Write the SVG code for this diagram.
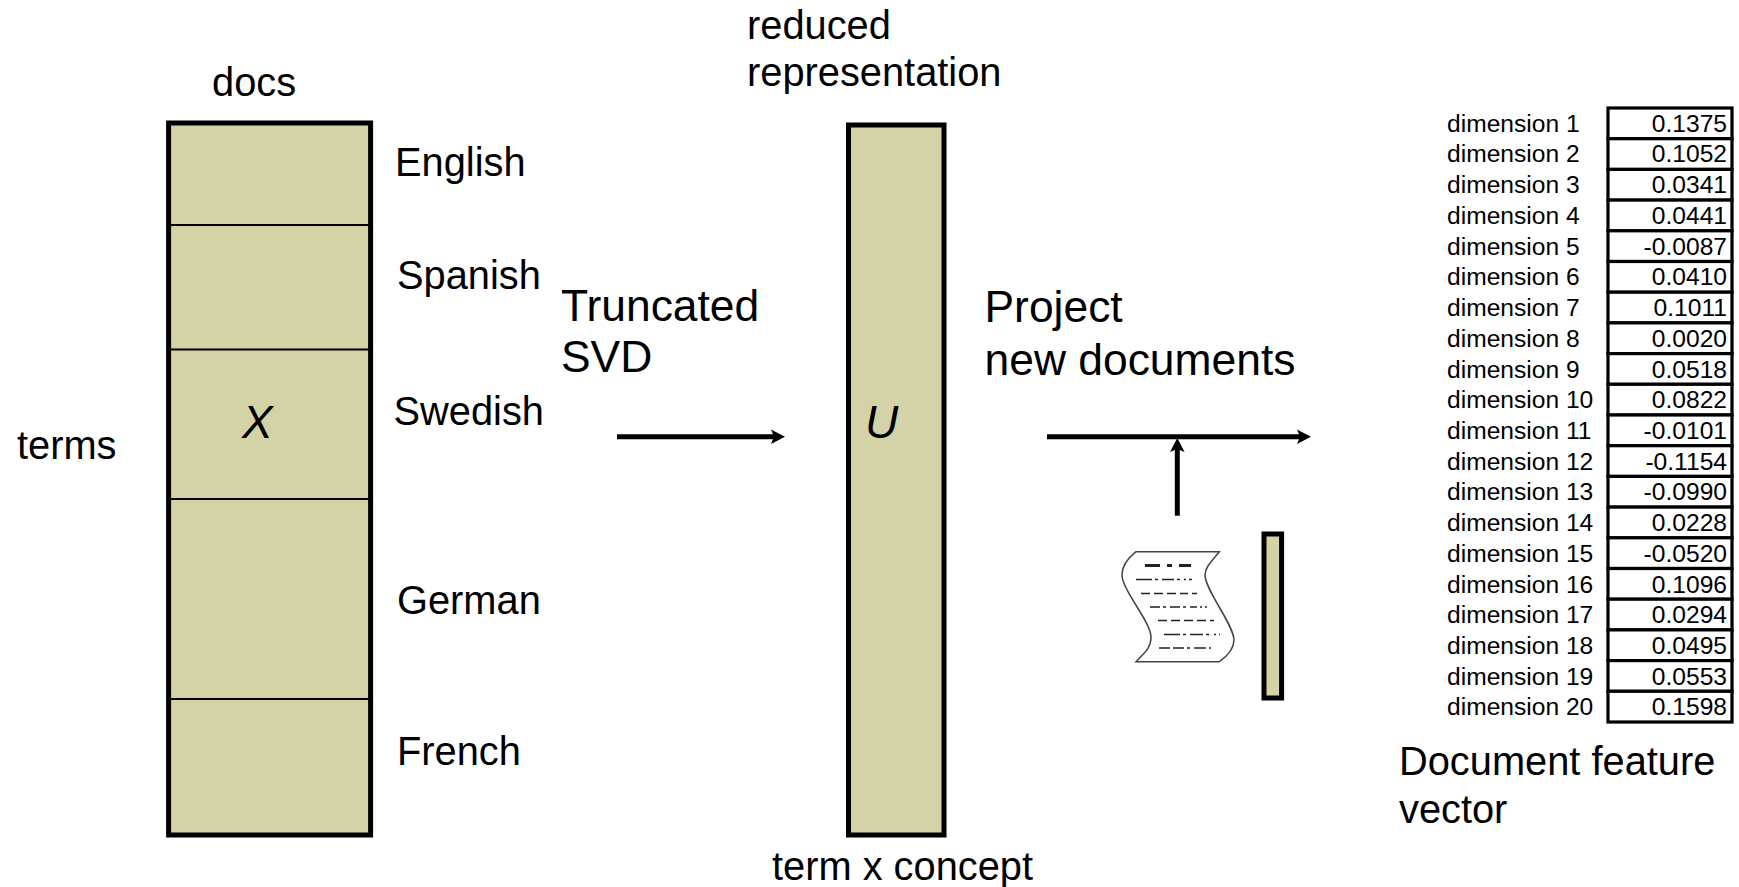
<svg xmlns="http://www.w3.org/2000/svg" width="1739" height="887" viewBox="0 0 1739 887">
<style>
text{font-family:"Liberation Sans",Arial,sans-serif;fill:#000}
.l{font-size:39.8px}
.h{font-size:44.4px}
.i{font-size:46px;font-style:italic}
.d{font-size:24.6px}
.v{font-size:24.6px;text-anchor:end}
.box{fill:#d4d3a7;stroke:#000;stroke-width:5}
.sep{stroke:#000;stroke-width:2.2;fill:none}
.cell{fill:#fff;stroke:#000;stroke-width:3.2}
.conn{stroke:#000;stroke-width:5;fill:none;marker-end:url(#ah)}
.dash{stroke:#222;stroke-width:1.5;fill:none}
</style>
<defs>
<marker id="ah" markerUnits="userSpaceOnUse" markerWidth="16" markerHeight="16" refX="3" refY="8" orient="auto">
<path d="M0,0.7 L14,8 L0,15.3 L3,8 Z" fill="#000"/>
</marker>
</defs>
<g id="matrix-x">
<rect class="box" x="168.6" y="123" width="202" height="712"/>
<path class="sep" d="M168.6 225H370.6M168.6 349.500H370.6M168.6 499H370.6M168.6 699H370.6"/>
<text class="i" x="242" y="438">X</text>
<text class="l" x="212" y="96">docs</text>
<text class="l" x="17" y="459">terms</text>
<text class="l" x="395" y="176">English</text>
<text class="l" x="397" y="289">Spanish</text>
<text class="l" x="393.500" y="425">Swedish</text>
<text class="l" x="397" y="614">German</text>
<text class="l" x="397" y="765">French</text>
</g>
<g id="label-svd">
<text class="h" x="561" y="320.500">Truncated</text>
<text class="h" x="561" y="372">SVD</text>
</g>
<g id="matrix-u">
<rect class="box" x="848.5" y="125" width="95.5" height="710"/>
<text class="i" x="865" y="438">U</text>
<text class="l" x="747" y="39">reduced</text>
<text class="l" x="747" y="86">representation</text>
<text class="l" x="772" y="880">term x concept</text>
</g>
<g id="label-project">
<text class="h" x="984.500" y="322">Project</text>
<text class="h" x="984.500" y="375">new documents</text>
</g>
<g id="connectors">
<path class="conn" d="M617 436.700H774"/>
<path class="conn" d="M1047 436.700H1300"/>
<path class="conn" d="M1177.300 515.700V449"/>
</g>
<g id="document">
<path d="M1136 551.700H1219.300C1210 563 1205 568 1205 575C1205 590 1234 625 1234 640C1234 650 1226 657 1219.300 661.700H1136C1145 652 1151 648 1151 637C1151 622 1122 590 1122 575C1122 565 1128 558 1136 551.700Z" fill="#fff" stroke="#444" stroke-width="1.500"/>
<path d="M1145 565.500H1160M1167 565.500H1172M1179 565.500H1191" stroke="#222" stroke-width="3" fill="none"/>
<path class="dash" d="M1136 579.500H1152M1155 579.500H1158M1162 579.500H1174M1177 579.500H1180M1184 579.500H1186M1189 579.500H1192"/>
<path class="dash" d="M1141 593.500H1150M1154 593.500H1163M1167 593.500H1176M1180 593.500H1188M1192 593.500H1197"/>
<path class="dash" d="M1150 607H1160M1163 607H1166M1170 607H1180M1183 607H1186M1190 607H1197M1200 607H1202M1205 607H1207"/>
<path class="dash" d="M1158 620.500H1167M1171 620.500H1180M1184 620.500H1193M1197 620.500H1206M1210 620.500H1214"/>
<path class="dash" d="M1164 634.500H1180M1183 634.500H1186M1190 634.500H1203M1206 634.500H1209M1214 634.500H1216M1219 634.500H1220"/>
<path class="dash" d="M1159 648H1170M1173 648H1184M1187 648H1190M1194 648H1206M1209 648H1211"/>
<rect class="box" x="1264" y="534" width="17.600" height="164"/>
</g>
<g id="feature-vector">
<g id="cells">
<rect class="cell" x="1608" y="108" width="124" height="30.700"/>
<rect class="cell" x="1608" y="138.700" width="124" height="30.700"/>
<rect class="cell" x="1608" y="169.400" width="124" height="30.700"/>
<rect class="cell" x="1608" y="200.100" width="124" height="30.700"/>
<rect class="cell" x="1608" y="230.800" width="124" height="30.700"/>
<rect class="cell" x="1608" y="261.500" width="124" height="30.700"/>
<rect class="cell" x="1608" y="292.200" width="124" height="30.700"/>
<rect class="cell" x="1608" y="322.900" width="124" height="30.700"/>
<rect class="cell" x="1608" y="353.600" width="124" height="30.700"/>
<rect class="cell" x="1608" y="384.300" width="124" height="30.700"/>
<rect class="cell" x="1608" y="415" width="124" height="30.700"/>
<rect class="cell" x="1608" y="445.700" width="124" height="30.700"/>
<rect class="cell" x="1608" y="476.400" width="124" height="30.700"/>
<rect class="cell" x="1608" y="507.100" width="124" height="30.700"/>
<rect class="cell" x="1608" y="537.800" width="124" height="30.700"/>
<rect class="cell" x="1608" y="568.500" width="124" height="30.700"/>
<rect class="cell" x="1608" y="599.200" width="124" height="30.700"/>
<rect class="cell" x="1608" y="629.900" width="124" height="30.700"/>
<rect class="cell" x="1608" y="660.600" width="124" height="30.700"/>
<rect class="cell" x="1608" y="691.300" width="124" height="30.700"/>
</g>
<text class="d" x="1447" y="132">dimension 1</text><text class="v" x="1727" y="132">0.1375</text>
<text class="d" x="1447" y="162">dimension 2</text><text class="v" x="1727" y="162">0.1052</text>
<text class="d" x="1447" y="193">dimension 3</text><text class="v" x="1727" y="193">0.0341</text>
<text class="d" x="1447" y="224">dimension 4</text><text class="v" x="1727" y="224">0.0441</text>
<text class="d" x="1447" y="255">dimension 5</text><text class="v" x="1727" y="255">-0.0087</text>
<text class="d" x="1447" y="285">dimension 6</text><text class="v" x="1727" y="285">0.0410</text>
<text class="d" x="1447" y="316">dimension 7</text><text class="v" x="1727" y="316">0.1011</text>
<text class="d" x="1447" y="347">dimension 8</text><text class="v" x="1727" y="347">0.0020</text>
<text class="d" x="1447" y="378">dimension 9</text><text class="v" x="1727" y="378">0.0518</text>
<text class="d" x="1447" y="408">dimension 10</text><text class="v" x="1727" y="408">0.0822</text>
<text class="d" x="1447" y="439">dimension 11</text><text class="v" x="1727" y="439">-0.0101</text>
<text class="d" x="1447" y="470">dimension 12</text><text class="v" x="1727" y="470">-0.1154</text>
<text class="d" x="1447" y="500">dimension 13</text><text class="v" x="1727" y="500">-0.0990</text>
<text class="d" x="1447" y="531">dimension 14</text><text class="v" x="1727" y="531">0.0228</text>
<text class="d" x="1447" y="562">dimension 15</text><text class="v" x="1727" y="562">-0.0520</text>
<text class="d" x="1447" y="593">dimension 16</text><text class="v" x="1727" y="593">0.1096</text>
<text class="d" x="1447" y="623">dimension 17</text><text class="v" x="1727" y="623">0.0294</text>
<text class="d" x="1447" y="654">dimension 18</text><text class="v" x="1727" y="654">0.0495</text>
<text class="d" x="1447" y="685">dimension 19</text><text class="v" x="1727" y="685">0.0553</text>
<text class="d" x="1447" y="715">dimension 20</text><text class="v" x="1727" y="715">0.1598</text>
<text class="l" x="1399" y="775">Document feature</text>
<text class="l" x="1399" y="823">vector</text>
</g>
</svg>
